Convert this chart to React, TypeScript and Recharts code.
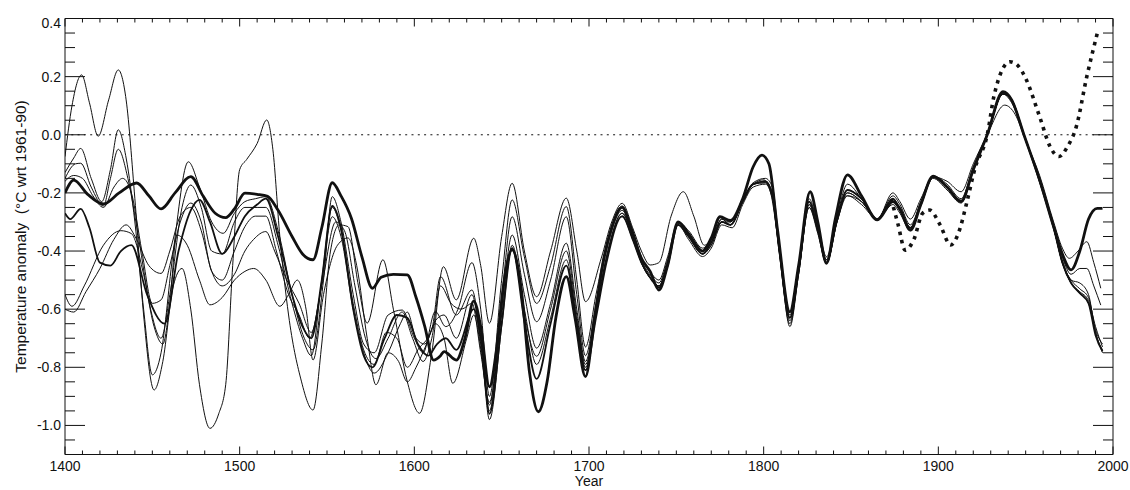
import React from 'react';
import { LineChart, Line, XAxis, YAxis, ReferenceLine } from 'recharts';

// ---------- axis ticks ----------
const yearLabels = [1400, 1500, 1600, 1700, 1800, 1900, 2000];
const valueLabels = [0.4, 0.2, 0.0, -0.2, -0.4, -0.6, -0.8, -1.0];
const yearTicks = Array.from({ length: 61 }, (_, i) => 1400 + i * 10);
const valueTicks = Array.from({ length: 31 }, (_, i) => Math.round((-1.1 + i * 0.05) * 100) / 100);

// ---------- series (year, anomaly) ----------
const heavy: [number, number][] = [
  [1400,-0.20],[1405,-0.156],[1413,-0.205],[1422,-0.238],[1431,-0.20],[1441,-0.166],[1448,-0.21],[1455,-0.255],[1463,-0.20],[1472,-0.144],[1479,-0.21],[1486,-0.27],[1492,-0.285],[1497,-0.255],[1503,-0.201],[1510,-0.205],[1516,-0.212],[1522,-0.26],[1530,-0.35],[1536,-0.41],[1542,-0.43],[1547,-0.32],[1553,-0.165],[1558,-0.21],[1564,-0.288],[1570,-0.42],[1576,-0.528],[1581,-0.49],[1588,-0.48],[1596,-0.482],[1601,-0.56],[1606,-0.66],[1611,-0.775],[1615,-0.76],[1617,-0.746],[1624,-0.775],[1629,-0.70],[1634,-0.572],[1638,-0.66],[1643,-0.867],[1647,-0.74],[1651,-0.52],[1656,-0.396],[1661,-0.52],[1666,-0.82],[1671,-0.953],[1676,-0.85],[1681,-0.63],[1687,-0.488],[1692,-0.63],[1698,-0.832],[1703,-0.64],[1708,-0.44],[1713,-0.32],[1719,-0.25],[1724,-0.32],[1730,-0.425],[1735,-0.47],[1740,-0.534],[1745,-0.45],[1751,-0.30],[1757,-0.34],[1765,-0.40],[1770,-0.355],[1775,-0.282],[1781,-0.295],[1788,-0.22],[1794,-0.11],[1799,-0.07],[1803,-0.10],[1808,-0.33],[1815,-0.609],[1820,-0.45],[1826.6,-0.196],[1831,-0.30],[1836,-0.442],[1841,-0.29],[1848,-0.138],[1856,-0.21],[1865,-0.293],[1874,-0.23],[1878,-0.255],[1884,-0.328],[1890,-0.24],[1897,-0.142],[1905,-0.18],[1913,-0.23],[1920,-0.12],[1928,0.0],[1937,0.148],[1942,0.12],[1949,0.0],[1958,-0.156],[1966,-0.316],[1971,-0.41],[1976,-0.465],[1981,-0.40],[1986,-0.29],[1991,-0.253],[1994,-0.253],
];

const medium: [number, number][] = [
  [1400,-0.27],[1403,-0.29],[1409,-0.255],[1414,-0.32],[1420,-0.44],[1426,-0.45],[1432,-0.40],[1438,-0.38],[1447,-0.55],[1457,-0.65],[1465,-0.40],[1472,-0.26],[1477,-0.224],[1483,-0.30],[1490,-0.41],[1497,-0.35],[1503,-0.28],[1510,-0.24],[1515,-0.22],[1522,-0.35],[1530,-0.55],[1536,-0.66],[1541,-0.70],[1547,-0.50],[1553,-0.245],[1558,-0.32],[1565,-0.60],[1571,-0.76],[1576,-0.80],[1583,-0.70],[1590,-0.62],[1596,-0.63],[1602,-0.72],[1608,-0.76],[1613,-0.72],[1618,-0.70],[1624,-0.74],[1634,-0.60],[1639,-0.74],[1643,-0.96],[1650,-0.65],[1656,-0.39],[1663,-0.64],[1670,-0.84],[1678,-0.65],[1687,-0.45],[1693,-0.65],[1698,-0.81],[1704,-0.63],[1710,-0.44],[1719,-0.28],[1725,-0.36],[1730,-0.44],[1736,-0.50],[1740,-0.525],[1745,-0.45],[1751,-0.31],[1757,-0.35],[1765,-0.41],[1770,-0.37],[1776,-0.30],[1781,-0.31],[1788,-0.23],[1794,-0.17],[1801,-0.16],[1805,-0.21],[1809,-0.40],[1815,-0.63],[1820,-0.47],[1826,-0.23],[1831,-0.33],[1836,-0.44],[1842,-0.29],[1848,-0.19],[1856,-0.22],[1865,-0.29],[1874,-0.22],[1878,-0.26],[1884,-0.32],[1890,-0.24],[1897,-0.145],[1905,-0.18],[1913,-0.23],[1920,-0.12],[1928,0.0],[1937,0.145],[1942,0.12],[1949,0.0],[1958,-0.16],[1966,-0.32],[1971,-0.44],[1976,-0.51],[1981,-0.545],[1986,-0.58],[1990,-0.69],[1994,-0.745],
];

const thin1: [number, number][] = [
  [1400,-0.075],[1404,0.10],[1409.5,0.206],[1414,0.11],[1419,-0.005],[1425,0.12],[1430.5,0.223],[1435,0.12],[1440,-0.22],[1445,-0.62],[1451,-0.878],[1456,-0.78],[1462,-0.52],[1467,-0.46],[1472,-0.60],[1477,-0.86],[1483,-1.01],[1488,-0.96],[1492,-0.86],[1496,-0.45],[1500,-0.12],[1504,-0.085],[1510,-0.03],[1515.5,0.051],[1519,-0.05],[1523,-0.35],[1528,-0.62],[1535,-0.84],[1542,-0.947],[1547,-0.72],[1552,-0.40],[1557,-0.31],[1562,-0.316],[1568,-0.52],[1573,-0.648],[1582,-0.43],[1588,-0.60],[1596,-0.85],[1603,-0.958],[1610,-0.75],[1616.6,-0.454],[1624,-0.568],[1634,-0.356],[1638,-0.45],[1643,-0.648],[1650,-0.35],[1656,-0.167],[1663,-0.40],[1670,-0.557],[1678,-0.40],[1687,-0.218],[1693,-0.40],[1698,-0.574],[1707,-0.425],[1713,-0.30],[1719,-0.236],[1725,-0.32],[1730,-0.40],[1735,-0.448],[1740,-0.44],[1747,-0.28],[1754,-0.196],[1760,-0.28],[1766,-0.38],[1771,-0.35],[1776,-0.30],[1781,-0.30],[1788,-0.22],[1794,-0.17],[1800,-0.155],[1804,-0.20],[1809,-0.40],[1815,-0.66],[1820,-0.48],[1826,-0.25],[1831,-0.33],[1836,-0.43],[1842,-0.28],[1848,-0.21],[1856,-0.24],[1865,-0.29],[1874,-0.20],[1878,-0.23],[1884,-0.29],[1890,-0.22],[1897,-0.145],[1905,-0.16],[1913,-0.196],[1920,-0.10],[1928,0.0],[1938,0.102],[1944,0.07],[1950,-0.02],[1958,-0.14],[1966,-0.30],[1971,-0.39],[1975,-0.425],[1980,-0.40],[1985,-0.368],[1989,-0.44],[1993,-0.528],
];

const thin2: [number, number][] = [
  [1400,-0.13],[1405,-0.08],[1409,-0.047],[1415,-0.15],[1421,-0.23],[1426,-0.12],[1430.5,0.017],[1435,-0.08],[1440,-0.30],[1445,-0.60],[1450,-0.826],[1455,-0.75],[1462,-0.40],[1470.6,-0.093],[1477,-0.18],[1484,-0.30],[1490.6,-0.339],[1497,-0.27],[1503,-0.23],[1509,-0.22],[1515,-0.213],[1522,-0.33],[1530,-0.55],[1537,-0.70],[1542,-0.74],[1548,-0.50],[1553,-0.213],[1558,-0.30],[1565,-0.55],[1571,-0.72],[1577,-0.75],[1585,-0.62],[1593,-0.603],[1600,-0.70],[1605,-0.75],[1612,-0.608],[1618,-0.66],[1625,-0.60],[1633,-0.44],[1638,-0.60],[1643,-0.90],[1650,-0.50],[1656,-0.224],[1663,-0.42],[1670,-0.58],[1678,-0.45],[1687,-0.247],[1693,-0.50],[1698,-0.73],[1704,-0.55],[1710,-0.38],[1719,-0.245],[1725,-0.33],[1730,-0.42],[1736,-0.48],[1740,-0.50],[1745,-0.42],[1751,-0.30],[1757,-0.33],[1765,-0.39],[1770,-0.36],[1776,-0.29],[1781,-0.30],[1788,-0.22],[1794,-0.165],[1801,-0.15],[1805,-0.18],[1809,-0.38],[1815,-0.64],[1820,-0.47],[1826,-0.22],[1831,-0.31],[1836,-0.42],[1842,-0.28],[1848,-0.17],[1856,-0.22],[1865,-0.29],[1874,-0.21],[1878,-0.24],[1884,-0.31],[1890,-0.23],[1897,-0.142],[1905,-0.17],[1913,-0.22],[1920,-0.11],[1928,0.0],[1937,0.14],[1942,0.11],[1949,0.0],[1958,-0.15],[1966,-0.31],[1971,-0.42],[1976,-0.48],[1981,-0.46],[1985,-0.46],[1989,-0.52],[1993,-0.586],
];

const thin3: [number, number][] = [
  [1400,-0.15],[1406,-0.10],[1409,-0.098],[1415,-0.18],[1422,-0.245],[1426,-0.15],[1430.5,-0.05],[1436,-0.15],[1442,-0.35],[1449,-0.60],[1455,-0.70],[1460,-0.55],[1467,-0.25],[1472,-0.173],[1478,-0.25],[1484,-0.40],[1490,-0.41],[1497,-0.30],[1503,-0.25],[1510,-0.25],[1515,-0.25],[1522,-0.38],[1530,-0.58],[1536,-0.70],[1541,-0.76],[1547,-0.50],[1553,-0.25],[1558,-0.33],[1565,-0.58],[1571,-0.74],[1577,-0.79],[1584,-0.68],[1590,-0.70],[1596,-0.80],[1602,-0.74],[1610,-0.67],[1615,-0.488],[1624,-0.62],[1633,-0.534],[1638,-0.70],[1643,-0.93],[1650,-0.56],[1656,-0.282],[1663,-0.48],[1670,-0.643],[1678,-0.50],[1687,-0.282],[1693,-0.55],[1698,-0.76],[1704,-0.58],[1710,-0.40],[1719,-0.26],[1725,-0.34],[1730,-0.43],[1736,-0.49],[1740,-0.51],[1745,-0.43],[1751,-0.305],[1757,-0.34],[1765,-0.40],[1770,-0.37],[1776,-0.29],[1781,-0.31],[1788,-0.23],[1794,-0.17],[1801,-0.16],[1805,-0.20],[1809,-0.40],[1815,-0.62],[1820,-0.46],[1826,-0.23],[1831,-0.32],[1836,-0.43],[1842,-0.29],[1848,-0.19],[1856,-0.22],[1865,-0.295],[1874,-0.22],[1878,-0.25],[1884,-0.32],[1890,-0.23],[1897,-0.145],[1905,-0.18],[1913,-0.225],[1920,-0.12],[1928,0.0],[1937,0.145],[1942,0.12],[1949,0.0],[1958,-0.155],[1966,-0.315],[1971,-0.43],[1976,-0.50],[1981,-0.51],[1986,-0.55],[1990,-0.68],[1994,-0.74],
];

const thin4: [number, number][] = [
  [1400,-0.16],[1405,-0.14],[1410,-0.15],[1416,-0.21],[1422,-0.25],[1428,-0.18],[1433,-0.15],[1438,-0.20],[1444,-0.40],[1450,-0.58],[1455,-0.568],[1460,-0.45],[1466,-0.30],[1472,-0.235],[1478,-0.30],[1484,-0.47],[1490,-0.50],[1497,-0.40],[1503,-0.316],[1509,-0.28],[1515,-0.28],[1521,-0.40],[1528,-0.55],[1534,-0.62],[1540,-0.70],[1546,-0.55],[1553,-0.282],[1558,-0.35],[1565,-0.60],[1571,-0.75],[1577,-0.82],[1585,-0.75],[1592,-0.65],[1596,-0.61],[1601,-0.70],[1606,-0.72],[1612,-0.64],[1617,-0.62],[1624,-0.70],[1633,-0.55],[1638,-0.72],[1643,-0.95],[1650,-0.60],[1656,-0.345],[1663,-0.55],[1670,-0.734],[1678,-0.58],[1687,-0.373],[1693,-0.60],[1698,-0.78],[1704,-0.60],[1710,-0.42],[1719,-0.27],[1725,-0.35],[1730,-0.44],[1736,-0.50],[1740,-0.52],[1745,-0.44],[1751,-0.31],[1757,-0.35],[1765,-0.41],[1770,-0.38],[1776,-0.30],[1781,-0.31],[1788,-0.23],[1794,-0.17],[1801,-0.165],[1805,-0.21],[1809,-0.40],[1815,-0.63],[1820,-0.47],[1826,-0.24],[1831,-0.33],[1836,-0.44],[1842,-0.30],[1848,-0.20],[1856,-0.23],[1865,-0.29],[1874,-0.23],[1878,-0.26],[1884,-0.32],[1890,-0.24],[1897,-0.145],[1905,-0.18],[1913,-0.23],[1920,-0.12],[1928,0.0],[1937,0.14],[1942,0.12],[1949,0.0],[1958,-0.16],[1966,-0.32],[1971,-0.44],[1976,-0.51],[1981,-0.545],[1986,-0.58],[1990,-0.68],[1994,-0.75],
];

const thin5: [number, number][] = [
  [1400,-0.55],[1404,-0.59],[1411,-0.52],[1422,-0.38],[1432,-0.33],[1438,-0.34],[1445,-0.48],[1451,-0.66],[1456,-0.72],[1460,-0.58],[1464,-0.345],[1470,-0.38],[1477,-0.50],[1483,-0.585],[1490,-0.56],[1497,-0.50],[1503,-0.47],[1508,-0.46],[1515,-0.50],[1523,-0.59],[1528,-0.55],[1533,-0.50],[1538,-0.60],[1542,-0.775],[1548,-0.55],[1556,-0.38],[1562,-0.355],[1567,-0.45],[1573,-0.70],[1578,-0.86],[1585,-0.75],[1591,-0.78],[1596,-0.85],[1601,-0.80],[1607,-0.72],[1612,-0.65],[1617,-0.70],[1622,-0.855],[1630,-0.70],[1634,-0.62],[1639,-0.78],[1643,-0.98],[1650,-0.66],[1656,-0.38],[1663,-0.60],[1670,-0.79],[1678,-0.63],[1687,-0.43],[1693,-0.64],[1698,-0.80],[1704,-0.62],[1710,-0.42],[1719,-0.282],[1725,-0.36],[1730,-0.44],[1736,-0.50],[1740,-0.52],[1745,-0.45],[1751,-0.31],[1757,-0.36],[1765,-0.419],[1770,-0.39],[1776,-0.31],[1782,-0.32],[1788,-0.24],[1794,-0.18],[1801,-0.17],[1805,-0.22],[1809,-0.41],[1815,-0.65],[1820,-0.48],[1826,-0.25],[1831,-0.34],[1836,-0.44],[1842,-0.30],[1848,-0.21],[1856,-0.23],[1865,-0.29],[1874,-0.24],[1878,-0.27],[1884,-0.33],[1890,-0.24],[1897,-0.15],[1905,-0.19],[1913,-0.235],[1920,-0.12],[1928,0.0],[1937,0.14],[1942,0.12],[1949,0.0],[1958,-0.16],[1966,-0.32],[1971,-0.44],[1976,-0.51],[1981,-0.54],[1986,-0.57],[1990,-0.66],[1994,-0.73],
];

const thin6: [number, number][] = [
  [1400,-0.60],[1405,-0.61],[1412,-0.54],[1420,-0.46],[1428,-0.36],[1435,-0.31],[1441,-0.36],[1448,-0.45],[1455,-0.477],[1460,-0.40],[1466,-0.28],[1472,-0.25],[1478,-0.33],[1484,-0.47],[1490,-0.52],[1497,-0.48],[1503,-0.40],[1508,-0.36],[1515,-0.333],[1520,-0.40],[1527,-0.50],[1534,-0.58],[1541,-0.68],[1547,-0.52],[1555,-0.30],[1560,-0.33],[1566,-0.52],[1572,-0.70],[1578,-0.77],[1585,-0.70],[1593,-0.61],[1599,-0.70],[1605,-0.78],[1610,-0.70],[1615,-0.52],[1621,-0.58],[1627,-0.60],[1633,-0.58],[1638,-0.75],[1643,-0.92],[1650,-0.62],[1656,-0.39],[1663,-0.62],[1670,-0.762],[1678,-0.60],[1687,-0.40],[1693,-0.62],[1698,-0.79],[1704,-0.62],[1710,-0.43],[1719,-0.27],[1725,-0.35],[1730,-0.44],[1736,-0.50],[1740,-0.52],[1745,-0.44],[1751,-0.31],[1757,-0.35],[1765,-0.41],[1770,-0.38],[1776,-0.30],[1781,-0.31],[1788,-0.23],[1794,-0.17],[1801,-0.165],[1805,-0.21],[1809,-0.40],[1815,-0.63],[1820,-0.47],[1826,-0.24],[1831,-0.33],[1836,-0.44],[1842,-0.30],[1848,-0.20],[1856,-0.23],[1865,-0.29],[1874,-0.23],[1878,-0.26],[1884,-0.32],[1890,-0.24],[1897,-0.145],[1905,-0.18],[1913,-0.23],[1920,-0.12],[1928,0.0],[1937,0.14],[1942,0.12],[1949,0.0],[1958,-0.16],[1966,-0.32],[1971,-0.44],[1976,-0.50],[1981,-0.53],[1986,-0.56],[1990,-0.67],[1994,-0.72],
];

const observed: [number, number][] = [
  [1873,-0.22],[1877,-0.31],[1881,-0.397],[1886,-0.36],[1891,-0.27],[1895,-0.259],[1901,-0.31],[1907,-0.379],[1912,-0.33],[1916,-0.24],[1921,-0.115],[1928,0.0],[1932,0.137],[1941,0.251],[1946,0.235],[1950,0.194],[1958,0.062],[1964,-0.041],[1969,-0.075],[1974,-0.04],[1979,0.028],[1985,0.20],[1991,0.349],
];

const toPts = (arr: [number, number][]) => arr.map(([x, v]) => ({ x, v }));

const FONT = '"Liberation Sans", Arial, Helvetica, sans-serif';
const INK = '#111';

const isMajorYear = (v: number) => yearLabels.includes(v);
const isMajorValue = (v: number) => valueLabels.some((l) => Math.abs(l - v) < 1e-6);

const BottomTick = (props: any) => {
  const { x, y, payload } = props;
  const v = payload.value;
  const major = isMajorYear(v);
  return (
    <g>
      <line x1={x} x2={x} y1={y} y2={y - (major ? 8 : 4)} stroke={INK} strokeWidth={1} />
      {major && (
        <text x={x} y={y + 16} textAnchor="middle" fontSize={14} fontFamily={FONT} fill={INK}>
          {v}
        </text>
      )}
    </g>
  );
};

const TopTick = (props: any) => {
  const { x, y, payload } = props;
  const major = isMajorYear(payload.value);
  return <line x1={x} x2={x} y1={y} y2={y + (major ? 8 : 4)} stroke={INK} strokeWidth={1} />;
};

const LeftTick = (props: any) => {
  const { x, y, payload } = props;
  const v = payload.value;
  const major = isMajorValue(v);
  const dy = Math.abs(v - 0.4) < 1e-6 ? 4 : 0;
  return (
    <g>
      <line x1={x} x2={x + (major ? 20 : 10)} y1={y} y2={y} stroke={INK} strokeWidth={1} />
      {major && (
        <text x={x - 4} y={y + 5 + dy} textAnchor="end" fontSize={14} fontFamily={FONT} fill={INK}>
          {v.toFixed(1)}
        </text>
      )}
    </g>
  );
};

const RightTick = (props: any) => {
  const { x, y, payload } = props;
  const major = isMajorValue(payload.value);
  return <line x1={x} x2={x - (major ? 20 : 10)} y1={y} y2={y} stroke={INK} strokeWidth={1} />;
};

const YTitle = (props: any) => {
  const vb = props.viewBox || { x: 64, y: 18.5, width: 1, height: 436 };
  const cx = vb.x + vb.width - 45;
  const cy = vb.y + vb.height / 2;
  return (
    <text
      x={cx}
      y={cy}
      transform={`rotate(-90 ${cx} ${cy})`}
      textAnchor="middle"
      dominantBaseline="central"
      fontSize={15.5}
      fontFamily={FONT}
      fill={INK}
      style={{ whiteSpace: 'pre' }}
    >
      {'Temperature anomaly\u00a0\u00a0(\u00b0C wrt 1961-90)'}
    </text>
  );
};

const XTitle = (props: any) => {
  const vb = props.viewBox || { x: 65, y: 454.5, width: 1048, height: 1 };
  return (
    <text x={vb.x + vb.width / 2} y={vb.y + 31} textAnchor="middle" fontSize={14} fontFamily={FONT} fill={INK}>
      Year
    </text>
  );
};

const thinSeries = [thin1, thin2, thin3, thin4, thin5, thin6];

export default function App() {
  return (
    <div style={{ position: 'fixed', left: 0, top: 0, width: 1130, height: 490, background: '#fff' }}>
      <LineChart width={1130} height={490} margin={{ top: 17.5, right: 16, bottom: 34.5, left: 64 }}>
        <XAxis
          xAxisId="b"
          dataKey="x"
          type="number"
          domain={[1400, 2000]}
          allowDataOverflow
          ticks={yearTicks}
          interval={0}
          height={1}
          tickSize={0}
          tickMargin={0}
          tickLine={false}
          axisLine={{ stroke: INK, strokeWidth: 1 }}
          tick={<BottomTick />}
          label={<XTitle />}
        />
        <XAxis
          xAxisId="t"
          orientation="top"
          dataKey="x"
          type="number"
          domain={[1400, 2000]}
          allowDataOverflow
          ticks={yearTicks}
          interval={0}
          height={1}
          tickSize={0}
          tickMargin={0}
          tickLine={false}
          axisLine={{ stroke: INK, strokeWidth: 1 }}
          tick={<TopTick />}
        />
        <YAxis
          yAxisId="l"
          type="number"
          domain={[-1.1, 0.4]}
          allowDataOverflow
          ticks={valueTicks}
          interval={0}
          width={1}
          tickSize={0}
          tickMargin={0}
          tickLine={false}
          axisLine={{ stroke: INK, strokeWidth: 1 }}
          tick={<LeftTick />}
          label={<YTitle />}
        />
        <YAxis
          yAxisId="r"
          orientation="right"
          type="number"
          domain={[-1.1, 0.4]}
          allowDataOverflow
          ticks={valueTicks}
          interval={0}
          width={1}
          tickSize={0}
          tickMargin={0}
          tickLine={false}
          axisLine={{ stroke: INK, strokeWidth: 1 }}
          tick={<RightTick />}
        />
        <ReferenceLine xAxisId="b" yAxisId="l" y={0} stroke={INK} strokeWidth={1} strokeDasharray="2 4.3" />
        {thinSeries.map((s, i) => (
          <Line
            key={'thin' + i}
            xAxisId="b"
            yAxisId="l"
            data={toPts(s)}
            dataKey="v"
            type="monotone"
            stroke={INK}
            strokeWidth={1}
            dot={false}
            activeDot={false}
            isAnimationActive={false}
          />
        ))}
        <Line xAxisId="b" yAxisId="l" data={toPts(medium)} dataKey="v" type="monotone" stroke={INK} strokeWidth={1.8} dot={false} activeDot={false} isAnimationActive={false} />
        <Line xAxisId="b" yAxisId="l" data={toPts(heavy)} dataKey="v" type="monotone" stroke={INK} strokeWidth={2.8} dot={false} activeDot={false} isAnimationActive={false} />
        <Line xAxisId="t" yAxisId="r" data={toPts(observed)} dataKey="v" type="monotone" stroke={INK} strokeWidth={3.6} strokeDasharray="3.5 5" strokeLinecap="butt" dot={false} activeDot={false} isAnimationActive={false} />
      </LineChart>
    </div>
  );
}
